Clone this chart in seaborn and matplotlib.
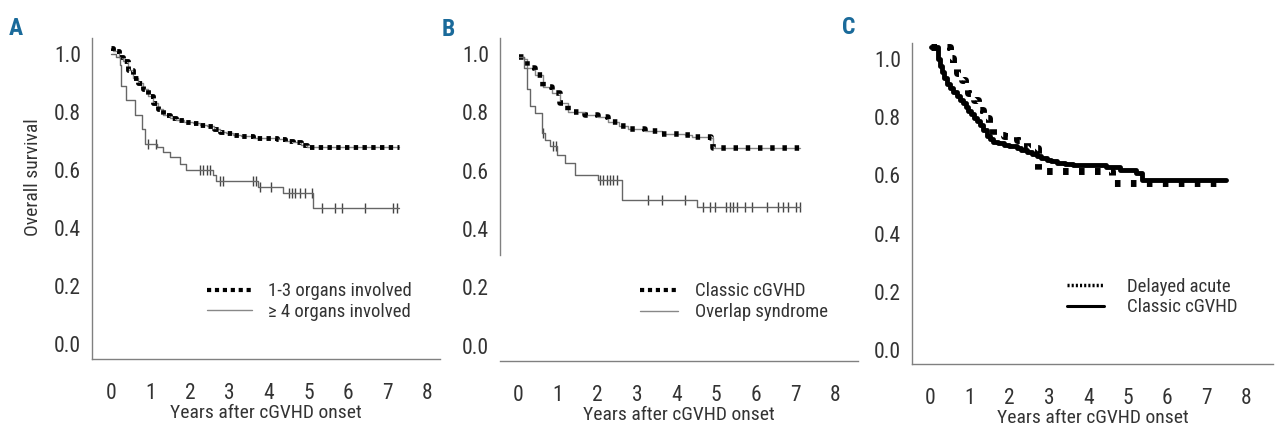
import numpy as np
import pandas as pd
import seaborn as sns
import matplotlib.pyplot as plt
from matplotlib import font_manager
from matplotlib.lines import Line2D

# Panel A: number of organs involved
a1_t = [0.0, 0.06, 0.2, 0.31, 0.45, 0.56, 0.7, 0.82, 0.95, 1.07, 1.2, 1.32, 1.5, 1.66, 1.85, 2.08, 2.25, 2.42, 2.6, 2.76, 2.9, 3.09, 3.3, 3.6, 3.9, 4.19, 4.4, 4.6, 4.8, 4.95, 5.3, 5.62, 7.27]
a1_s = [1.02, 1.01, 0.99, 0.974, 0.945, 0.916, 0.9, 0.88, 0.855, 0.83, 0.81, 0.79, 0.78, 0.77, 0.765, 0.76, 0.755, 0.75, 0.74, 0.73, 0.725, 0.72, 0.715, 0.71, 0.71, 0.705, 0.70, 0.695, 0.685, 0.68, 0.678, 0.677, 0.677]
a2_t = [0.0, 0.14, 0.23, 0.27, 0.4, 0.61, 0.78, 0.86, 1.16, 1.32, 1.49, 1.75, 1.91, 2.59, 2.67, 3.73, 4.36, 5.12, 7.27]
a2_s = [1.0, 0.99, 0.96, 0.89, 0.84, 0.79, 0.74, 0.69, 0.68, 0.66, 0.645, 0.62, 0.60, 0.58, 0.56, 0.54, 0.52, 0.467, 0.467]
a2_cens = [0.94, 1.15, 2.25, 2.33, 2.42, 2.5, 2.76, 2.84, 3.6, 3.68, 3.76, 4.04, 4.5, 4.58, 4.66, 4.79, 4.91, 5.08, 5.33, 5.66, 5.83, 6.42, 7.14, 7.22]

# Panel B: classic vs overlap
b1_t = [0.0, 0.13, 0.21, 0.42, 0.63, 0.84, 1.05, 1.26, 1.68, 2.02, 2.27, 2.53, 2.78, 3.2, 3.62, 4.21, 4.38, 4.88, 4.93, 7.12]
b1_s = [0.99, 0.982, 0.95, 0.928, 0.888, 0.865, 0.83, 0.80, 0.79, 0.785, 0.768, 0.753, 0.742, 0.734, 0.725, 0.722, 0.715, 0.711, 0.677, 0.677]
b2_t = [0.0, 0.13, 0.21, 0.29, 0.42, 0.59, 0.67, 0.8, 0.97, 1.18, 1.43, 2.02, 2.61, 4.51, 7.12]
b2_s = [0.99, 0.95, 0.88, 0.82, 0.797, 0.728, 0.705, 0.683, 0.654, 0.625, 0.586, 0.568, 0.50, 0.474, 0.474]
b2_cens = [0.63, 0.86, 0.95, 2.07, 2.15, 2.23, 2.32, 2.4, 2.48, 3.28, 3.62, 4.21, 4.67, 4.84, 4.97, 5.26, 5.35, 5.43, 5.52, 5.73, 5.9, 6.28, 6.57, 6.7, 6.82, 7.03, 7.12]

# Panel C: delayed acute vs classic
c1_t = [0.0, 0.46, 0.5, 0.58, 0.67, 0.79, 0.88, 0.96, 1.09, 1.21, 1.34, 1.47, 1.59, 1.85, 2.18, 2.44, 2.73, 4.59, 7.37]
c1_s = [1.04, 1.04, 1.003, 0.975, 0.952, 0.929, 0.906, 0.883, 0.86, 0.826, 0.797, 0.763, 0.74, 0.735, 0.722, 0.694, 0.614, 0.573, 0.573]
c2_t = [0.0, 0.16, 0.2, 0.24, 0.28, 0.33, 0.41, 0.5, 0.58, 0.67, 0.75, 0.83, 0.9, 0.96, 1.02, 1.09, 1.17, 1.26, 1.34, 1.43, 1.5, 1.59, 1.72, 1.85, 2.0, 2.18, 2.3, 2.44, 2.56, 2.69, 2.8, 2.94, 3.05, 3.2, 3.4, 3.62, 4.46, 4.8, 5.22, 5.35, 7.5]
c2_s = [1.04, 1.04, 1.0, 0.975, 0.955, 0.935, 0.915, 0.9, 0.885, 0.872, 0.86, 0.849, 0.835, 0.82, 0.81, 0.797, 0.786, 0.774, 0.755, 0.734, 0.725, 0.716, 0.71, 0.705, 0.70, 0.694, 0.688, 0.682, 0.674, 0.665, 0.66, 0.654, 0.649, 0.644, 0.64, 0.636, 0.63, 0.619, 0.608, 0.585, 0.585]

x_ticks = [0, 1, 2, 3, 4, 5, 6, 7, 8]
y_ticks = [0.0, 0.2, 0.4, 0.6, 0.8, 1.0]

sns.set_style("white")

# look for a narrow face, the original uses a condensed grotesque
installed = {f.name for f in font_manager.fontManager.ttflist}
narrow = None
for name in ['Liberation Sans Narrow', 'DejaVu Sans Condensed', 'Roboto Condensed',
             'Noto Sans Condensed', 'Open Sans Condensed']:
    if name in installed:
        narrow = name
        break
if narrow is None:
    for name in sorted(installed):
        if 'Narrow' in name or 'Condensed' in name:
            narrow = name
            break
if narrow is not None:
    fam = [narrow, 'DejaVu Sans']
    fs_yt, fs_xt, fs_lab, fs_leg = 15.5, 15.5, 14, 13.5
else:
    fam = ['Roboto', 'DejaVu Sans']
    fs_yt, fs_xt, fs_lab, fs_leg = 13, 13, 12, 11.5
plt.rcParams['font.family'] = fam

txt = '#333333'
spine = '#808080'


def step_df(t, s):
    return pd.DataFrame({'t': t, 's': s})


def cens_df(t, s, ct):
    idx = np.searchsorted(t, ct, side='right') - 1
    return pd.DataFrame({'t': ct, 's': np.array(s)[idx]})


def style_axes(ax, xmax):
    ax.set_xlim(-0.47, xmax)
    ax.set_ylim(-0.053, 1.054)
    ax.set_xticks(x_ticks)
    ax.set_yticks(y_ticks)
    ax.set_yticklabels([f'{v:.1f}' for v in y_ticks])
    for side in ['top', 'right']:
        ax.spines[side].set_visible(False)
    for side in ['left', 'bottom']:
        ax.spines[side].set_color(spine)
        ax.spines[side].set_linewidth(1.0)
    ax.tick_params(axis='x', direction='out', length=11, width=1, color=spine,
                   labelsize=fs_xt, labelcolor=txt, pad=6)
    ax.tick_params(axis='y', direction='out', length=5, width=1, color=spine,
                   labelsize=fs_yt, labelcolor=txt, pad=3)
    ax.set_xlabel('Years after cGVHD onset', fontsize=fs_lab, color=txt, labelpad=0)
    ax.set_ylabel('')


def add_legend(ax, handles, labels, x, y, hl, tp):
    ax.legend(handles, labels, frameon=False, loc='center left',
              bbox_to_anchor=(x, y), fontsize=fs_leg, borderaxespad=0, borderpad=0,
              handlelength=hl, handletextpad=tp, labelspacing=0.15, labelcolor=txt)


fig = plt.figure(figsize=(12.8, 4.33), dpi=100)
axA = fig.add_axes([0.0719, 0.171, 0.272, 0.741])
axB = fig.add_axes([0.3906, 0.166, 0.280, 0.746])
axC = fig.add_axes([0.7125, 0.159, 0.282, 0.742])

dotted = (0, (1.0, 0.9))

# A
sns.lineplot(data=step_df(a1_t, a1_s), x='t', y='s', ax=axA, drawstyle='steps-post',
             color='#888888', lw=1, estimator=None, sort=False)
sns.lineplot(data=step_df(a1_t, a1_s), x='t', y='s', ax=axA, drawstyle='steps-post',
             color='black', lw=3.5, linestyle=(0, (0.9, 0.9)), estimator=None, sort=False)
sns.lineplot(data=step_df(a2_t, a2_s), x='t', y='s', ax=axA, drawstyle='steps-post',
             color='#666666', lw=1, estimator=None, sort=False)
sns.scatterplot(data=cens_df(a2_t, a2_s, a2_cens), x='t', y='s', ax=axA, marker='|',
                s=60, color='#444444', linewidth=1)
style_axes(axA, 8.32)
axA.set_ylabel('Overall survival', fontsize=fs_lab, color=txt)
axA.yaxis.set_label_coords(-0.143, 0.567)
add_legend(axA, [Line2D([], [], color='black', lw=3, linestyle=dotted),
                 Line2D([], [], color='#888888', lw=1)],
           ['1-3 organs involved', '\u2265 4 organs involved'], 0.33, 0.179, 2.4, 0.85)

# B
sns.lineplot(data=step_df(b1_t, b1_s), x='t', y='s', ax=axB, drawstyle='steps-post',
             color='#888888', lw=1, estimator=None, sort=False)
sns.lineplot(data=step_df(b1_t, b1_s), x='t', y='s', ax=axB, drawstyle='steps-post',
             color='black', lw=4, linestyle=(0, (0.8, 1.4)), estimator=None, sort=False)
sns.lineplot(data=step_df(b2_t, b2_s), x='t', y='s', ax=axB, drawstyle='steps-post',
             color='#666666', lw=1, estimator=None, sort=False)
sns.scatterplot(data=cens_df(b2_t, b2_s, b2_cens), x='t', y='s', ax=axB, marker='|',
                s=60, color='#444444', linewidth=1)
style_axes(axB, 8.6)
axB.spines['left'].set_bounds(0.31, 1.054)
add_legend(axB, [Line2D([], [], color='black', lw=3, linestyle=dotted),
                 Line2D([], [], color='#888888', lw=1)],
           ['Classic cGVHD', 'Overlap syndrome'], 0.391, 0.184, 2.0, 0.95)

# C
sns.lineplot(data=step_df(c2_t, c2_s), x='t', y='s', ax=axC, drawstyle='steps-post',
             color='black', lw=3.5, estimator=None, sort=False)
sns.lineplot(data=step_df(c1_t, c1_s), x='t', y='s', ax=axC, drawstyle='steps-post',
             color='black', lw=5, linestyle=(0, (0.8, 1.5)), estimator=None, sort=False)
style_axes(axC, 8.68)
axC.set_ylim(-0.048, 1.055)
add_legend(axC, [Line2D([], [], color='black', lw=2.5, linestyle=(0, (0.6, 0.6))),
                 Line2D([], [], color='black', lw=2.2)],
           ['Delayed acute', 'Classic cGVHD'], 0.429, 0.209, 2.0, 1.2)

for x, y, lab in [(0.007, 0.96, 'A'), (0.345, 0.958, 'B'), (0.658, 0.963, 'C')]:
    fig.text(x, y, lab, fontsize=17, fontweight='bold', color='#1a6a9a', va='top')

fig.savefig('out.png', dpi=100)
